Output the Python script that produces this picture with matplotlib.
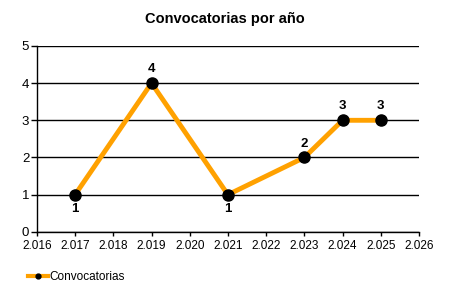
import matplotlib
matplotlib.use("Agg")
import matplotlib.pyplot as plt
from matplotlib.lines import Line2D

plt.rcParams['font.family'] = ['Liberation Sans', 'DejaVu Sans']

years = [2017, 2019, 2021, 2023, 2024, 2025]
values = [1, 4, 1, 2, 3, 3]
label_pos = ['below', 'above', 'below', 'above', 'above', 'above']
xticks = [2016, 2017, 2018, 2019, 2020, 2021, 2022, 2023, 2024, 2025, 2026]
xtick_labels = ['2.016', '2.017', '2.018', '2.019', '2.020', '2.021', '2.022', '2.023', '2.024', '2.025', '2.026']
yticks = [0, 1, 2, 3, 4, 5]

fig = plt.figure(figsize=(4.5, 3.0), dpi=100)
ax = fig.add_axes([0.082, 0.227, 0.849, 0.62])
ax.set_xlim(2016, 2026)
ax.set_ylim(0, 5)
ax.set_yticks(yticks)
ax.set_xticks(xticks)
ax.set_xticklabels(xtick_labels)
ax.tick_params(axis='x', labelsize=8.5, length=3, width=1, color='black', pad=3)
ax.tick_params(axis='y', labelsize=9.5, length=4, width=1, color='black', pad=1.5)
ax.grid(axis='y', color='black', linewidth=1)
ax.set_axisbelow(True)
for s in ['top', 'right']:
    ax.spines[s].set_visible(False)
for s in ['left', 'bottom']:
    ax.spines[s].set_linewidth(1)

ax.plot(years, values, color='#FFA100', linewidth=3.5, marker='o', markersize=8,
        markerfacecolor='black', markeredgecolor='black', zorder=3, clip_on=False)
for x, y, p in zip(years, values, label_pos):
    off = 10 if p == 'above' else -10
    ax.annotate(str(y), (x, y), xytext=(0, off), textcoords='offset points',
                ha='center', va='center', fontsize=9.5, fontweight='bold')

fig.text(0.5, 0.937, 'Convocatorias por año', ha='center', va='center', fontsize=10.5, fontweight='bold')

handle = Line2D([], [], color='#FFA100', linewidth=3, marker='o', markersize=3.5,
                markerfacecolor='black', markeredgecolor='black')
fig.legend([handle], ['Convocatorias'], loc='center left', bbox_to_anchor=(0.048, 0.077),
           frameon=False, fontsize=8.5, handlelength=1.7, handletextpad=0.15, borderpad=0)

fig.savefig('out.png', dpi=100)
